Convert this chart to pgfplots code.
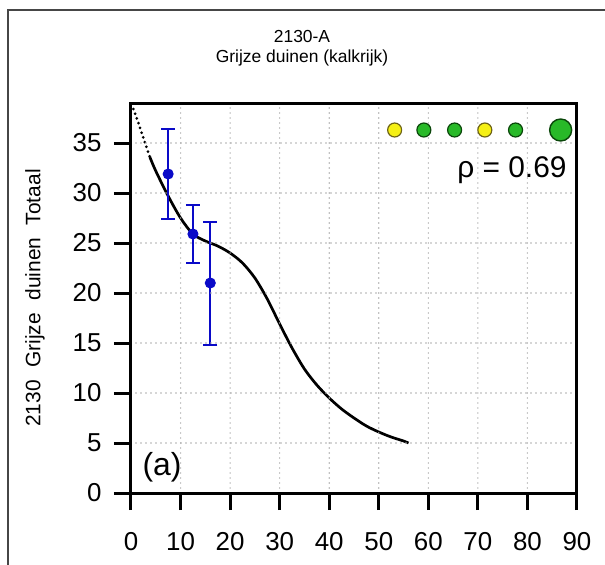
\documentclass[border=0pt]{standalone}
\usepackage{fontspec}
\setmainfont{Liberation Sans}
\usepackage{pgfplots}
\pgfplotsset{compat=1.18}

\definecolor{ebblue}{RGB}{10,10,200}
\definecolor{framegray}{RGB}{70,70,70}
\definecolor{dotyellow}{RGB}{245,240,20}
\definecolor{yellowedge}{RGB}{110,100,20}
\definecolor{dotgreen}{RGB}{40,185,40}
\definecolor{greenedge}{RGB}{10,70,10}

\begin{document}
\begin{tikzpicture}
\useasboundingbox (-131bp,-72bp) rectangle (474bp,493bp);
% outer frame (cut off at right and bottom)
\draw[line width=2bp, framegray] (-123bp,-80bp) -- (-123bp,483bp) -- (480bp,483bp);
\node[anchor=base, font=\fontsize{17.5}{21}\selectfont] at (171bp,450bp) {2130-A};
\node[anchor=base, font=\fontsize{17.5}{21}\selectfont] at (171bp,430bp) {Grijze duinen (kalkrijk)};

\begin{axis}[
    scale only axis,
    width=446bp, height=390bp,
    xmin=0, xmax=90, ymin=0, ymax=39,
    xtick={0,10,...,90}, ytick={0,5,...,35},
    tick align=outside, xtick pos=bottom, ytick pos=left,
    axis line style={line width=3bp, black},
    major tick length=17bp,
    every major tick/.append style={black, line width=3bp, solid},
    axis on top,
    grid=major,
    grid style={gray!65, line width=1.6bp, line cap=round, dash pattern=on 0bp off 5bp},
    tick label style={font=\fontsize{26}{30}\selectfont},
    yticklabel style={xshift=-9bp},
    xticklabel style={yshift=-19bp},
    /pgf/number format/assume math mode=true,
    ylabel={2130\hspace{0.6em}Grijze\hspace{0.6em}duinen\hspace{0.6em}Totaal},
    ylabel style={at={(axis description cs:-0.2152,0.5)}, anchor=center, font=\fontsize{21}{25}\selectfont},
    clip=false,
]
% fitted curve, dotted extrapolation
\addplot[black, line width=3bp, line cap=round, dash pattern=on 0bp off 5bp]
    coordinates {(0.5,38.4) (1.5,37.0) (2.7,35.2) (3.8,33.6)};
\addplot[black, line width=2.7bp, smooth, tension=0.5] coordinates {
    (3.8,33.6) (5,32.2) (7.5,29.7) (10,27.5) (12.5,25.9) (15,25.2)
    (17.5,24.7) (20,24.0) (22.5,23.0) (25,21.5) (27.5,19.4) (30,16.9)
    (32.5,14.5) (35,12.4) (37.5,10.8) (40,9.5) (42.5,8.4) (45,7.5)
    (47.5,6.7) (50,6.1) (52.5,5.6) (55,5.2) (56,5.0)};

% observations with error bars
\addplot[only marks, mark=*, mark size=5bp, ebblue, mark options={line width=1bp},
    error bars/.cd, y dir=both, y explicit,
    error bar style={line width=2bp, ebblue},
    error mark=-,
    error mark options={rotate=90, mark size=7bp, line width=2bp, ebblue}]
    coordinates {
    (7.5,31.9) += (0,4.5) -= (0,4.5)
    (12.5,25.9) += (0,2.9) -= (0,2.9)
    (16.0,21.0) += (0,6.1) -= (0,6.2)};

% indicator dots
\addplot[only marks, mark=*, mark size=7bp, mark options={fill=dotyellow, draw=yellowedge, line width=1.2bp}]
    coordinates {(53.2,36.3) (71.4,36.3)};
\addplot[only marks, mark=*, mark size=7bp, mark options={fill=dotgreen, draw=greenedge, line width=1.2bp}]
    coordinates {(59.1,36.3) (65.3,36.3) (77.6,36.3)};
\addplot[only marks, mark=*, mark size=11bp, mark options={fill=dotgreen, draw=greenedge, line width=1.4bp}]
    coordinates {(86.7,36.3)};

\node[anchor=east, font=\fontsize{30}{34}\selectfont] at (axis cs:88.6,32.3) {ρ = 0.69};
\node[font=\fontsize{32}{36}\selectfont] at (axis cs:6.26,2.6) {(a)};
\end{axis}
\end{tikzpicture}
\end{document}
